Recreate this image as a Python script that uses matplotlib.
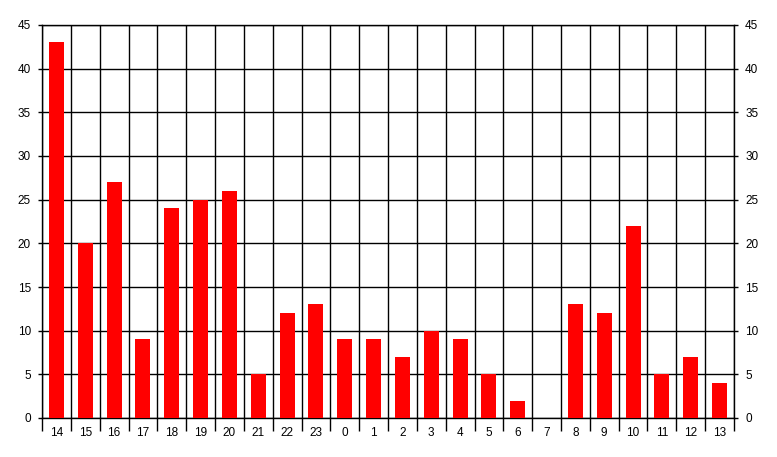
import numpy as np
import matplotlib.pyplot as plt

hours = ["14", "15", "16", "17", "18", "19", "20", "21", "22", "23", "0", "1",
         "2", "3", "4", "5", "6", "7", "8", "9", "10", "11", "12", "13"]
counts = [43, 20, 27, 9, 24, 25, 26, 5, 12, 13, 9, 9,
          7, 10, 9, 5, 2, 0, 13, 12, 22, 5, 7, 4]

plt.rcParams['font.family'] = ['Liberation Sans', 'DejaVu Sans']

fig = plt.figure(figsize=(7.77, 4.57), dpi=100)
ax = fig.add_axes([42 / 777, 39 / 457, 692 / 777, 393 / 457])

x = np.arange(len(hours))
ax.bar(x, counts, width=0.52, color="#ff0000", edgecolor="none", zorder=3)

ax.set_xlim(-0.5, len(hours) - 0.5)
ax.set_ylim(0, 45)

# category labels at centres, boundary lines as minor ticks
ax.set_xticks(x)
ax.set_xticklabels(hours, fontsize=8.5)
ax.set_xticks(np.arange(-0.5, len(hours)), minor=True)
ax.tick_params(axis="x", which="major", length=0, pad=6.5)
ax.tick_params(axis="x", which="minor", length=9, width=1, color="black")
ax.grid(True, axis="x", which="minor", color="black", linewidth=1, zorder=1)

ax.set_yticks(range(0, 46, 5))
ax.tick_params(axis="y", which="major", labelsize=8.5, length=3, width=1,
               left=True, right=True, labelleft=True, labelright=True, pad=5)
ax.grid(True, axis="y", which="major", color="black", linewidth=1, zorder=1)

for s in ax.spines.values():
    s.set_linewidth(1)

plt.savefig("out.png", dpi=100)
